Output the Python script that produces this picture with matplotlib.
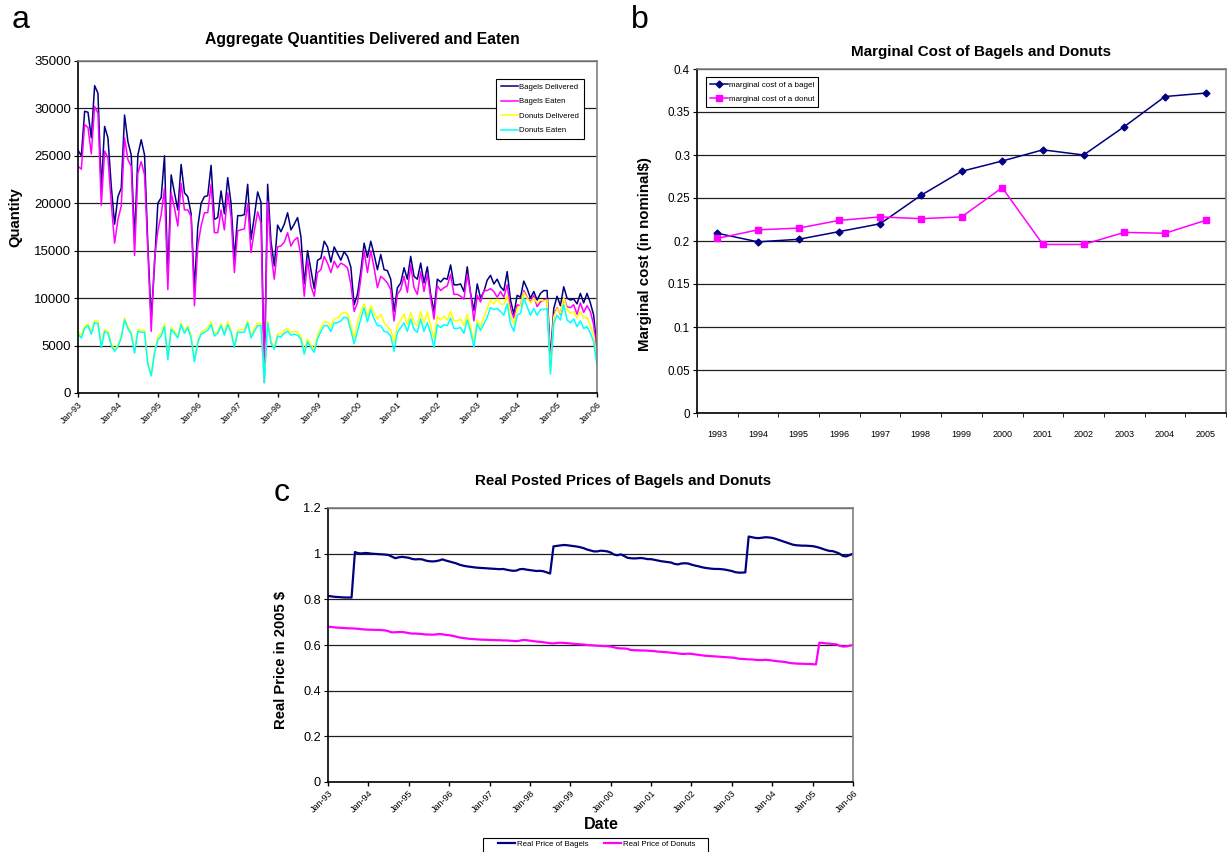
import numpy as np
import matplotlib
matplotlib.use("Agg")
import matplotlib.pyplot as plt
from matplotlib.ticker import FuncFormatter
from matplotlib.patches import Rectangle

plt.rcParams['font.family'] = ['Liberation Sans', 'DejaVu Sans']

# ---- data ----
# monthly quantities, Jan-93 .. Jan-06 (thousands)
bagels_delivered = [
    25.6, 25.0, 29.7, 29.6, 26.9, 32.4, 31.6, 21.5, 28.1, 26.9, 21.8, 17.8,
    20.7, 21.6, 29.3, 26.5, 25.1, 16.2, 25.1, 26.7, 25.1, 15.5, 7.8, 13.5,
    20.0, 20.6, 25.0, 12.0, 23.0, 21.1, 19.3, 24.1, 21.1, 20.7, 18.9, 11.0,
    17.5, 20.0, 20.7, 20.8, 24.0, 18.3, 18.5, 21.3, 18.9, 22.7, 20.0, 14.1,
    18.7, 18.7, 18.8, 22.0, 16.2, 18.6, 21.2, 20.1, 1.8, 22.0, 16.0, 13.4,
    17.7, 17.0, 17.8, 19.0, 17.2, 17.8, 18.5, 16.5, 11.5, 15.0, 13.0, 11.0,
    14.0, 14.2, 16.0, 15.4, 13.8,
    15.4, 14.7, 14.0, 14.9, 14.4, 13.3, 9.3, 10.4, 12.8, 15.8,
    14.3, 16.0, 14.6, 13.0, 14.6, 13.0, 12.9, 12.0,
    8.6, 11.1, 11.6, 13.2, 12.0, 14.4, 12.3, 12.0, 13.7, 11.6,
    13.3, 10.4, 8.6, 12.0, 11.7, 12.1, 12.0, 13.5, 11.4, 11.4, 11.5, 10.7,
    13.3, 10.5, 8.7, 11.5, 10.0, 10.7, 11.9, 12.4, 11.5, 12.0,
    11.2, 10.8, 12.8, 9.8, 8.3, 10.3, 10.1, 11.8, 11.0, 10.0,
    10.7, 9.8, 10.5, 10.8, 10.8,
    3.6,
    8.9, 10.2, 9.2, 11.2, 10.0, 9.8, 9.9, 9.4, 10.5, 9.5, 10.5, 9.5, 8.2, 4.5]

bagels_eaten = [
    23.9, 23.6, 28.3, 28.0, 25.2, 30.2, 29.5, 19.8, 25.5, 24.8, 20.0, 15.8,
    18.3, 19.7, 26.9, 24.6, 23.9, 14.5, 23.2, 24.4, 23.0, 15.0, 6.5, 14.1,
    17.1, 18.8, 21.6, 10.9, 21.1, 19.5, 17.6, 22.1, 19.3, 19.3, 18.6, 9.2,
    15.5, 17.6, 19.0, 19.0, 22.0, 16.9, 16.9, 19.3, 17.2, 21.1, 18.6, 12.7,
    17.1, 17.2, 17.3, 20.0, 14.8, 17.1, 19.1, 17.9, 1.1, 20.2, 14.8, 12.0,
    15.4, 15.5, 15.9, 16.9, 15.5, 16.1, 16.4, 14.4, 10.2, 14.1, 11.3, 10.2,
    12.7, 13.0, 14.4, 13.7, 12.7,
    13.9, 13.2, 13.7, 13.5, 13.2, 11.5, 8.6, 9.5, 12.0, 15.0,
    12.7, 15.0, 13.2, 11.1, 12.3, 12.0, 11.6, 10.9, 7.6, 10.4,
    10.9, 12.3, 10.6, 13.5, 11.1, 10.4, 12.8, 10.7, 12.5, 10.0,
    7.8, 11.3, 10.8, 11.1, 11.3, 12.5, 10.4, 10.4, 10.2, 9.9,
    12.5, 10.5, 7.6, 10.3, 9.6, 10.8, 10.8, 11.0, 10.7, 10.1,
    10.7, 10.1, 11.4, 8.9, 7.9, 9.3, 9.2, 10.8, 10.1, 9.6,
    10.3, 9.1, 9.6, 9.8, 9.9,
    3.0,
    8.2, 9.0, 8.3, 10.0, 9.1, 9.0, 9.3, 8.3, 9.5, 8.5, 9.2, 8.6, 7.2, 3.9]

donuts_delivered = [
    6.5, 6.1, 7.0, 7.3, 6.5, 7.6, 7.6, 5.0, 6.7, 6.5, 5.2, 4.6,
    5.1, 6.0, 7.9, 7.0, 6.4, 4.4, 6.7, 6.6, 6.6, 3.2, 2.0, 4.4,
    5.9, 6.3, 7.3, 3.7, 6.9, 6.5, 6.0, 7.4, 6.5, 7.1, 6.0, 3.5,
    5.5, 6.4, 6.6, 6.9, 7.5, 6.2, 6.5, 7.3, 6.3, 7.5, 6.6, 5.0,
    6.6, 6.7, 6.7, 7.6, 6.0, 6.8, 7.4, 7.3, 1.3, 7.6, 5.5, 4.8,
    6.3, 6.2, 6.6, 6.8, 6.4, 6.5, 6.4, 6.0, 4.4, 5.7, 5.1, 4.6,
    6.1, 6.9, 7.5, 7.5, 7.0,
    7.8, 7.9, 8.3, 8.5, 8.4, 7.2, 5.8, 7.4, 8.6, 9.4,
    8.1, 9.2, 8.5, 7.8, 8.3, 7.4, 7.0, 6.7, 5.3, 7.1,
    7.7, 8.3, 7.2, 8.5, 7.4, 7.1, 8.6, 7.4, 8.5, 7.1,
    5.7, 8.1, 7.7, 8.1, 7.7, 8.6, 7.6, 7.6, 7.8, 7.1,
    8.3, 7.0, 5.4, 7.7, 7.0, 8.0, 8.9, 9.8, 9.4, 9.9,
    9.4, 9.3, 10.3, 8.2, 7.3, 8.9, 9.2, 10.6, 10.0, 9.5,
    10.0, 9.5, 9.8, 9.7, 9.8,
    2.4,
    8.0, 8.9, 8.4, 10.0, 8.8, 8.4, 8.6, 7.9, 8.6, 7.9, 8.0, 7.0, 6.2, 3.2]

donuts_eaten = [
    6.2, 5.8, 6.8, 7.1, 6.2, 7.4, 7.3, 4.8, 6.5, 6.3, 5.0, 4.4,
    4.9, 5.8, 7.7, 6.8, 6.2, 4.2, 6.5, 6.4, 6.4, 3.0, 1.8, 4.2,
    5.6, 6.0, 7.0, 3.5, 6.7, 6.3, 5.8, 7.2, 6.3, 6.9, 5.8, 3.3,
    5.3, 6.2, 6.4, 6.6, 7.2, 6.0, 6.3, 7.1, 6.1, 7.2, 6.4, 4.8,
    6.4, 6.4, 6.4, 7.4, 5.8, 6.5, 7.1, 7.1, 1.1, 7.4, 5.3, 4.6,
    6.0, 5.9, 6.3, 6.5, 6.1, 6.2, 6.1, 5.7, 4.1, 5.4, 4.8, 4.3,
    5.7, 6.5, 7.1, 7.1, 6.5,
    7.4, 7.4, 7.6, 8.0, 7.9, 6.6, 5.2, 6.5, 7.8, 9.0,
    7.5, 8.8, 7.8, 7.1, 7.1, 6.5, 6.4, 6.0, 4.4, 6.4,
    6.9, 7.4, 6.5, 7.8, 6.7, 6.4, 7.8, 6.5, 7.4, 6.3,
    4.8, 7.2, 6.9, 7.2, 7.1, 7.9, 6.8, 6.8, 6.9, 6.3,
    7.7, 6.5, 4.9, 7.3, 6.6, 7.3, 8.0, 9.0, 8.8, 8.9,
    8.6, 8.2, 9.4, 7.3, 6.5, 8.2, 8.4, 10.0, 9.1, 8.2,
    8.9, 8.2, 8.8, 8.8, 8.9,
    2.0,
    7.3, 8.2, 7.7, 9.3, 7.7, 7.4, 7.8, 7.0, 7.6, 6.8, 7.0, 6.3, 5.4, 2.9]

years = ['1993', '1994', '1995', '1996', '1997', '1998', '1999', '2000',
         '2001', '2002', '2003', '2004', '2005']
mc_bagel = [0.209, 0.199, 0.202, 0.211, 0.220, 0.253, 0.281, 0.293,
            0.306, 0.300, 0.333, 0.368, 0.372]
mc_donut = [0.203, 0.213, 0.215, 0.224, 0.228, 0.226, 0.228, 0.262,
            0.196, 0.196, 0.210, 0.209, 0.224]

# real posted prices, monthly Jan-93 .. Jan-06
price_bagels = [
    0.815, 0.813, 0.811, 0.810, 0.809, 0.808, 0.808, 0.808,
    1.007, 1.002, 1.001, 1.003,
    1.002, 1.000, 0.999, 0.998, 0.997, 0.996, 0.994, 0.987, 0.980, 0.984, 0.986, 0.984,
    0.982, 0.977, 0.975, 0.976, 0.975, 0.970, 0.967, 0.966, 0.967, 0.970, 0.975, 0.970,
    0.966, 0.962, 0.958, 0.952, 0.948, 0.945, 0.943, 0.941, 0.939, 0.938, 0.937, 0.936,
    0.935, 0.934, 0.933, 0.932, 0.933, 0.930, 0.927, 0.925, 0.926, 0.932, 0.933, 0.930,
    0.928, 0.926, 0.924, 0.925, 0.923, 0.918, 0.913,
    1.032, 1.034, 1.036, 1.038, 1.037, 1.035, 1.033, 1.031, 1.028, 1.024, 1.018, 1.014, 1.010,
    1.010, 1.013, 1.012, 1.010, 1.005, 0.996, 0.993, 0.997, 0.990, 0.982,
    0.980, 0.979, 0.980, 0.981, 0.979, 0.976,
    0.976, 0.973, 0.970, 0.967, 0.965, 0.963, 0.961, 0.955, 0.953, 0.957,
    0.958, 0.957, 0.952, 0.948, 0.945, 0.941, 0.938, 0.936, 0.934, 0.933,
    0.933, 0.932, 0.930, 0.927, 0.924, 0.919, 0.917, 0.917, 0.918,
    1.075, 1.072, 1.069, 1.068, 1.070, 1.072, 1.071, 1.069, 1.065, 1.060,
    1.055, 1.050, 1.045, 1.040, 1.037, 1.036, 1.035, 1.035, 1.034, 1.033,
    1.030, 1.026, 1.021, 1.016, 1.012, 1.011, 1.006, 1.000, 0.990, 0.988,
    0.994, 1.000]

price_donuts = [
    0.680, 0.679, 0.677, 0.676, 0.675, 0.674, 0.673, 0.673, 0.672, 0.671, 0.669, 0.668,
    0.667, 0.667, 0.666, 0.666, 0.665, 0.664, 0.660, 0.655, 0.656, 0.657, 0.657, 0.655,
    0.652, 0.650, 0.650, 0.649, 0.648, 0.646, 0.646, 0.645, 0.646, 0.648, 0.647, 0.644,
    0.643, 0.640, 0.637, 0.633, 0.631, 0.629, 0.627, 0.626, 0.625, 0.624, 0.623, 0.623,
    0.622, 0.622, 0.621, 0.621, 0.620, 0.620, 0.619, 0.618, 0.617, 0.619, 0.622, 0.621,
    0.619, 0.617, 0.615, 0.614, 0.612, 0.610, 0.608, 0.607, 0.609, 0.610, 0.609, 0.608,
    0.607, 0.605, 0.604, 0.603, 0.602, 0.600, 0.599, 0.598, 0.597, 0.596, 0.595, 0.595,
    0.593, 0.590, 0.586, 0.585, 0.585, 0.583, 0.578, 0.577, 0.577, 0.576, 0.576, 0.575,
    0.574, 0.573, 0.571, 0.570, 0.569, 0.568, 0.566, 0.565, 0.563, 0.561, 0.561, 0.562,
    0.561, 0.559, 0.557, 0.555, 0.553, 0.552, 0.551, 0.550, 0.549, 0.548, 0.547, 0.546,
    0.545, 0.543, 0.540, 0.539, 0.538, 0.537, 0.537, 0.535, 0.534, 0.534, 0.535, 0.534,
    0.532, 0.530, 0.528, 0.527, 0.525, 0.522, 0.520, 0.519, 0.518, 0.518, 0.517, 0.517,
    0.516, 0.515, 0.610, 0.609, 0.607, 0.606, 0.604, 0.603, 0.597, 0.593, 0.594, 0.597, 0.600]

date_labels = ['Jan-93', 'Jan-94', 'Jan-95', 'Jan-96', 'Jan-97', 'Jan-98', 'Jan-99',
               'Jan-00', 'Jan-01', 'Jan-02', 'Jan-03', 'Jan-04', 'Jan-05', 'Jan-06']

NAVY = '#000080'
PINK = '#FF00FF'
YEL = '#FFFF00'
CYAN = '#00FFFF'

fig = plt.figure(figsize=(12.27, 8.52), dpi=100)
W, H = 1227.0, 852.0

def box(l, t, r, b):
    # pixel box -> figure fraction
    return [l / W, 1 - b / H, (r - l) / W, (b - t) / H]

def excel_frame(ax):
    ax.spines['left'].set_color('black')
    ax.spines['bottom'].set_color('black')
    ax.spines['top'].set_color('#808080')
    ax.spines['right'].set_color('#808080')
    for s in ax.spines.values():
        s.set_linewidth(1.2)
    ax.yaxis.grid(True, color='#202020', lw=0.9)
    ax.set_axisbelow(True)

def date_axis(ax, fs):
    months = np.arange(0, 157, 12)
    ax.set_xticks(months)
    ax.set_xticklabels(date_labels, rotation=45, ha='right', rotation_mode='anchor', fontsize=fs)
    ax.set_xlim(0, 156)
    ax.tick_params(axis='x', direction='out', length=3, width=1, pad=2)

# ---- panel a ----
ax1 = fig.add_axes(box(78, 61, 597, 393))
t = np.arange(len(bagels_delivered))
ax1.plot(t, np.array(bagels_delivered) * 1000, color=NAVY, lw=1.1, label='Bagels Delivered')
ax1.plot(t, np.array(bagels_eaten) * 1000, color=PINK, lw=1.1, label='Bagels Eaten')
ax1.plot(t, np.array(donuts_delivered) * 1000, color=YEL, lw=1.1, label='Donuts Delivered')
ax1.plot(t, np.array(donuts_eaten) * 1000, color=CYAN, lw=1.1, label='Donuts Eaten')
ax1.set_ylim(0, 35000)
ax1.set_yticks(np.arange(0, 35001, 5000))
ax1.tick_params(axis='y', labelsize=9.5, direction='out', length=3, pad=2)
date_axis(ax1, 6.3)
excel_frame(ax1)
ax1.set_ylabel('Quantity', fontsize=10.7, fontweight='bold')
ax1.yaxis.set_label_coords(-0.108, 0.53)
leg = ax1.legend(loc='upper right', bbox_to_anchor=(0.975, 0.946), fontsize=5.6,
                 frameon=True, fancybox=False, edgecolor='black', framealpha=1,
                 handlelength=2.2, borderpad=0.6, labelspacing=0.9, handletextpad=0.2,
                 borderaxespad=0)
leg.get_frame().set_linewidth(0.8)
fig.text(362 / W, 1 - 39.5 / H, 'Aggregate Quantities Delivered and Eaten',
         ha='center', va='center', fontsize=11.3, fontweight='bold')
fig.text(12 / W, 1 - 28 / H, 'a', fontsize=23, va='baseline')

# ---- panel b ----
ax2 = fig.add_axes(box(697, 69, 1226, 413))
xb = np.arange(len(years))
ax2.plot(xb, mc_bagel, color=NAVY, lw=1.1, marker='D', ms=3.5, label='marginal cost of a bagel')
ax2.plot(xb, mc_donut, color=PINK, lw=1.1, marker='s', ms=4.5, label='marginal cost of a donut')
ax2.set_xlim(-0.5, 12.5)
ax2.set_ylim(0, 0.4)
ax2.set_yticks(np.arange(0, 0.401, 0.05))
ax2.yaxis.set_major_formatter(FuncFormatter(lambda v, p: '%g' % round(v, 2)))
ax2.set_xticks(xb)
ax2.set_xticklabels(years, fontsize=6.5)
ax2.set_xticks(np.arange(-0.5, 12.6, 1), minor=True)
ax2.tick_params(axis='x', which='major', length=0, pad=12)
ax2.tick_params(axis='x', which='minor', direction='out', length=3)
ax2.tick_params(axis='y', labelsize=8.4, direction='out', length=3, pad=2)
excel_frame(ax2)
ax2.set_ylabel('Marginal cost (in nominal$)', fontsize=10.8, fontweight='bold')
ax2.yaxis.set_label_coords(-0.085, 0.462)
leg2 = ax2.legend(loc='upper left', bbox_to_anchor=(0.017, 0.977), fontsize=5.8,
                  frameon=True, fancybox=False, edgecolor='black', framealpha=1,
                  handlelength=2.2, borderpad=0.5, labelspacing=0.8, handletextpad=0.1,
                  borderaxespad=0)
leg2.get_frame().set_linewidth(0.8)
fig.text(981 / W, 1 - 52 / H, 'Marginal Cost of Bagels and Donuts',
         ha='center', va='center', fontsize=10.9, fontweight='bold')
fig.text(631 / W, 1 - 28 / H, 'b', fontsize=23, va='baseline')

# ---- panel c ----
ax3 = fig.add_axes(box(328, 508, 853, 782))
tc = np.arange(len(price_bagels))
ax3.plot(tc, price_bagels, color=NAVY, lw=1.6, label='Real Price of Bagels')
ax3.plot(tc, price_donuts, color=PINK, lw=1.6, label='Real Price of Donuts')
ax3.set_ylim(0, 1.2)
ax3.set_yticks(np.arange(0, 1.21, 0.2))
ax3.yaxis.set_major_formatter(FuncFormatter(lambda v, p: '%g' % round(v, 1)))
ax3.tick_params(axis='y', labelsize=9.2, direction='out', length=3, pad=2)
date_axis(ax3, 6.5)
excel_frame(ax3)
ax3.set_ylabel('Real Price in 2005 $', fontsize=10.7, fontweight='bold')
ax3.yaxis.set_label_coords(-0.076, 0.445)
ax3.set_xlabel('Date', fontsize=11.5, fontweight='bold')
ax3.xaxis.set_label_coords(0.52, -0.128)
# legend sits in a box that runs off the bottom edge
leg3 = ax3.legend(loc='upper left', bbox_to_anchor=(498 / W, 1 - 840 / H),
                  bbox_transform=fig.transFigure, ncol=2, fontsize=5.7,
                  frameon=False, handlelength=2.15, borderpad=0, columnspacing=2.0,
                  handletextpad=0.2, borderaxespad=0)
fig.add_artist(Rectangle((483 / W, 1 - 880 / H), 225 / W, 42 / H, transform=fig.transFigure,
                         fill=False, edgecolor='black', lw=0.8, clip_on=False))
fig.text(623 / W, 1 - 481.5 / H, 'Real Posted Prices of Bagels and Donuts',
         ha='center', va='center', fontsize=10.9, fontweight='bold')
fig.text(274 / W, 1 - 501 / H, 'c', fontsize=23, va='baseline')

assert len(bagels_delivered) == 157 and len(bagels_eaten) == 157
assert len(donuts_delivered) == 157 and len(donuts_eaten) == 157
assert len(price_bagels) == 157 and len(price_donuts) == 157

fig.savefig('out.png', dpi=100)
